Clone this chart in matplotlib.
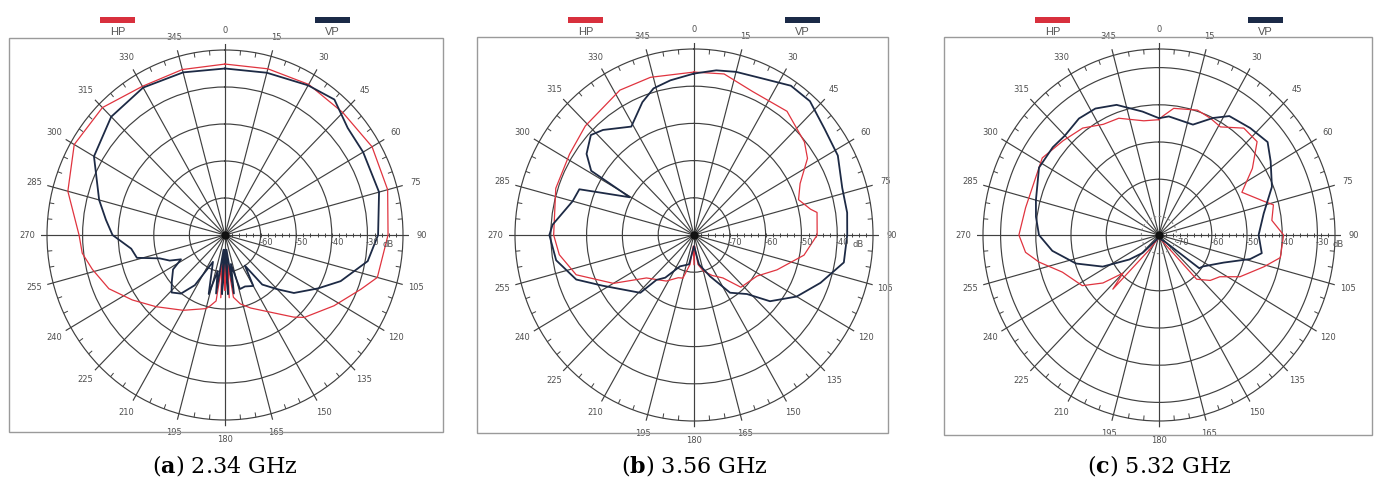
import numpy as np
import matplotlib
matplotlib.use("Agg")
import matplotlib.pyplot as plt
from matplotlib.patches import Rectangle

plt.rcParams["mathtext.fontset"] = "dejavuserif"

W, H = 1378, 479
HP_COLOR = "#e0343f"
VP_COLOR = "#1d2a45"
GRID = "#404040"

# ---- data: angle (deg, clockwise from top) and level (dB) ----
a_hp_ang = [0, 15, 30, 45, 60, 75, 90, 105, 111, 122, 135, 139, 150, 160, 167, 172, 174, 176, 178,
            180, 182, 184, 186, 188, 192, 195, 210, 225, 236, 246, 256, 263, 270, 285, 300, 315, 330, 345]
a_hp_db = [-23.8, -23.5, -23.0, -23.2, -22.3, -22.7, -24.2, -25.7, -29.1, -33.9, -38.5, -40.6, -46.1, -49.0,
           -50.9, -53.0, -62.0, -53.0, -66.0, -55.0, -66.0, -53.0, -62.0, -52.0, -50.5, -49.4, -46.5, -42.6,
           -38.6, -34.3, -31.6, -29.6, -29.0, -24.3, -21.1, -21.3, -23.6, -23.7]

a_vp_ang = [0, 15, 30, 40, 50, 60, 75, 90, 100, 111, 119, 129, 135, 142, 146, 150, 158, 164, 168, 171,
            174, 177, 180, 183, 186, 189, 192, 196, 205, 212, 218, 224, 230, 237.5, 242, 246, 251, 256,
            262, 270, 277, 285, 300, 315, 330, 345]
a_vp_db = [-25.0, -24.6, -23.3, -22.2, -25.0, -25.2, -25.2, -27.0, -29.3, -35.2, -40.2, -45.1, -49.3, -53.0,
           -60.0, -54.1, -55.0, -54.8, -62.0, -54.0, -66.0, -54.0, -66.0, -54.0, -66.0, -54.0, -60.0, -53.4,
           -62.0, -54.0, -49.9, -48.4, -50.5, -52.7, -56.0, -53.0, -50.6, -44.5, -43.4, -38.4, -36.3, -33.4,
           -27.5, -24.8, -24.0, -24.5]

b_hp_ang = [0, 11, 23, 38, 51, 57, 65, 72, 78, 80, 90, 100, 112, 122, 137, 145, 155, 165, 172, 176,
            180, 184, 188, 195, 201, 212, 229, 240, 252, 262, 270, 288, 302, 314, 332, 344]
b_hp_db = [-36.2, -35.9, -38.1, -37.8, -40.3, -42.2, -47.3, -49.3, -46.7, -45.1, -45.6, -48.8, -55.0, -59.2,
           -60.8, -65.9, -68.0, -70.0, -72.0, -77.0, -72.0, -77.0, -72.0, -68.0, -67.7, -65.4, -62.4, -54.0,
           -45.4, -42.0, -40.8, -39.4, -39.0, -37.8, -35.9, -35.9]

b_vp_ang = [0, 8, 15, 25, 34, 42, 52, 62, 73, 82, 90, 100, 110, 120, 130, 137, 147, 158, 170, 180,
            190, 205, 215, 221, 224, 242, 250, 260, 270, 274, 285, 291, 299.5, 301, 306, 313, 318, 329,
            338, 344, 351]
b_vp_db = [-36.6, -35.3, -34.6, -33.7, -31.6, -31.6, -33.7, -34.5, -36.7, -36.8, -37.2, -37.5, -42.4, -46.9,
           -52.3, -58.3, -61.5, -68.0, -72.0, -77.0, -72.0, -70.7, -66.0, -64.0, -58.4, -51.0, -45.0, -40.9,
           -39.6, -40.4, -44.9, -45.7, -59.4, -46.5, -42.9, -40.6, -42.0, -46.0, -41.5, -39.0, -37.9]

c_hp_ang = [0, 2, 7, 18, 25, 31, 40, 48, 56, 64, 73, 76, 83, 90, 100, 106, 116, 123, 130, 138, 145,
            165, 180, 195, 215, 222, 225, 231, 238, 250, 258, 263, 270, 281, 294, 302, 313, 323, 332, 340, 352]
c_hp_db = [-44.0, -43.0, -40.7, -39.7, -40.4, -41.1, -37.5, -37.5, -43.0, -48.8, -43.9, -41.5, -42.7, -39.6,
           -40.0, -44.0, -49.4, -54.4, -56.0, -59.0, -72.0, -74.0, -74.5, -74.0, -70.0, -55.4, -60.5, -54.5,
           -49.3, -45.8, -40.1, -36.8, -35.2, -36.4, -36.7, -35.9, -37.8, -39.0, -41.3, -41.6, -44.0]

c_vp_ang = [0, 5, 18, 26, 32, 42, 51, 58, 68, 79, 90, 99.5, 104, 112, 124, 128, 135, 150, 180, 210,
            224, 232, 242, 252, 262, 270, 278, 285, 298, 308, 315, 324, 332, 341, 352]
c_vp_db = [-43.6, -43.0, -43.8, -40.0, -37.3, -36.3, -35.3, -37.6, -40.4, -44.7, -46.7, -45.4, -48.3, -55.2,
           -59.9, -60.5, -72.0, -73.5, -74.5, -73.5, -68.3, -64.3, -56.9, -50.2, -44.4, -40.9, -39.7, -38.8,
           -36.4, -36.7, -37.2, -36.3, -36.5, -38.0, -41.5]

panels = [
    # letter, freq, dB at centre, dB at outer ring, ring labels, HP, VP
    ("a", "2.34 GHz", -70, -20, [-60, -50, -40, -30], (a_hp_ang, a_hp_db), (a_vp_ang, a_vp_db)),
    ("b", "3.56 GHz", -80, -30, [-70, -60, -50, -40], (b_hp_ang, b_hp_db), (b_vp_ang, b_vp_db)),
    ("c", "5.32 GHz", -75, -25, [-70, -60, -50, -40, -30], (c_hp_ang, c_hp_db), (c_vp_ang, c_vp_db)),
]

# layout in pixels (from top-left): polar centre, radii, frame, legend bars
layout = [
    dict(cx=225, cy=235, rx=178, ry=185, box=(9, 38, 443, 432), hp=100, vp=315),
    dict(cx=694, cy=235, rx=179, ry=186, box=(477, 37, 888, 433), hp=568, vp=785),
    dict(cx=1159, cy=235, rx=176, ry=186, box=(944, 37, 1372, 435), hp=1035, vp=1248),
]

fig = plt.figure(figsize=(W / 100, H / 100), dpi=100)


def fx(x):
    return x / W


def fy(y):
    return 1 - y / H


def closed(ang, db):
    ang = np.radians(np.append(ang, ang[0]))
    return ang, np.append(db, db[0])


for (letter, freq, r0, r1, rings, hp, vp), L in zip(panels, layout):
    x0, y0, x1, y1 = L["box"]
    fig.add_artist(Rectangle((fx(x0), fy(y1)), fx(x1 - x0), (y1 - y0) / H, transform=fig.transFigure,
                             fill=False, edgecolor="#9a9a9a", lw=1.0))

    # legend bars
    for bx, name, col in [(L["hp"], "HP", "#d8303d"), (L["vp"], "VP", "#1b2a47")]:
        fig.add_artist(Rectangle((fx(bx), fy(22.5)), 35 / W, 5.5 / H, transform=fig.transFigure,
                                 facecolor=col, edgecolor="none"))
        fig.text(fx(bx + 17.5), fy(32), name, ha="center", va="center", fontsize=8,
                 color="#555555", family="Liberation Sans")

    ext_px = 6
    ext = (r1 - r0) * ext_px / L["rx"]
    rx, ry = L["rx"] + ext_px, L["ry"] + ext_px * L["ry"] / L["rx"]
    ax = fig.add_axes([fx(L["cx"] - rx), fy(L["cy"] + ry), 2 * rx / W, 2 * ry / H], projection="polar")
    ax.set_aspect("auto")
    ax.set_theta_zero_location("N")
    ax.set_theta_direction(-1)
    ax.set_rlim(r0, r1 + ext)
    ax.spines["polar"].set_visible(False)
    ax.patch.set_alpha(0)

    ax.set_rgrids(rings + [r1], labels=[""] * (len(rings) + 1))
    ax.set_thetagrids(range(0, 360, 15), labels=[str(a) for a in range(0, 360, 15)])
    ax.grid(True, color=GRID, lw=0.85)
    if letter == "c":
        ax.yaxis.get_gridlines()[0].set_linestyle((0, (2, 2)))
        ax.yaxis.get_gridlines()[0].set_color("#888888")
    ax.tick_params(axis="x", pad=-1, labelsize=6, labelcolor="#505050")
    ax.tick_params(axis="y", length=0)

    # small ticks round the rim and along the 90 deg axis
    rim = np.radians([a for a in range(0, 360, 5) if a % 15])
    ax.vlines(rim, r1 - 1.3, r1, color=GRID, lw=0.7)
    ax.plot(np.full(len(np.arange(r0 + 2, r1, 2)), np.radians(90)), np.arange(r0 + 2, r1, 2),
            ls="none", marker="|", ms=3, mew=0.7, color=GRID)

    for r in rings:
        ax.annotate(str(r), (np.radians(90), r), xytext=(-1, -2.5), textcoords="offset points",
                    ha="left", va="top", fontsize=6, color="#505050")
    ax.annotate("dB", (np.radians(90), rings[-1] + 4.2), xytext=(0, -3.5), textcoords="offset points",
                ha="left", va="top", fontsize=6, color="#505050")

    ax.plot(*closed(*hp), color=HP_COLOR, lw=0.9)
    ax.plot(*closed(*vp), color=VP_COLOR, lw=1.3)
    ax.plot([0], [r0], marker="o", ms=5, color="#111111")

    fig.text(fx(L["cx"]), fy(465), rf"($\mathbf{{{letter}}}$) {freq}", ha="center", va="center",
             fontsize=16, family="DejaVu Serif")

fig.savefig("out.png", dpi=100)
